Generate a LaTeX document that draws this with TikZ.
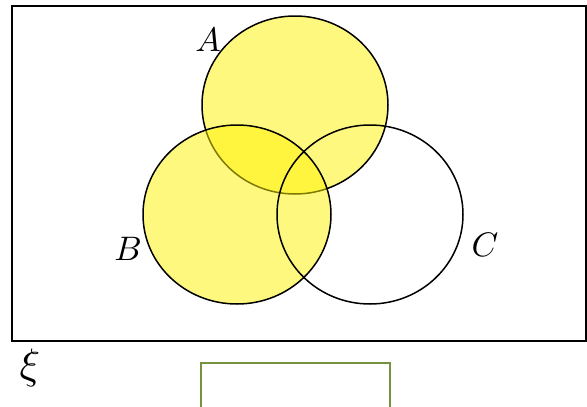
\documentclass[tikz,border=0pt]{standalone}
\usetikzlibrary{shapes.geometric}
\begin{document}
\begin{tikzpicture}[x=1pt,y=-1pt,
  setcirc/.style={draw=black,line width=1.5pt},
  yel/.style={setcirc,fill=yellow,fill opacity=0.5},
  lab/.style={scale=3.4,inner sep=0pt}]
\definecolor{olivebox}{RGB}{118,146,60}
\useasboundingbox (0,0) rectangle (587,407);
\draw[line width=1.4pt] (12,6) rectangle (586,341);
\node[yel,ellipse,minimum width=186pt,minimum height=178pt,inner sep=0pt] (A) at (295,105) {};
\node[yel,ellipse,minimum width=188pt,minimum height=179pt,inner sep=0pt] (B) at (237,214.5) {};
\node[setcirc,ellipse,minimum width=186pt,minimum height=179pt,inner sep=0pt] (C) at (370,214.5) {};
\node[lab] (la) at (208,40) {$A$};
\node[lab] (lb) at (128,249) {$B$};
\node[lab] (lc) at (485,245) {$C$};
\node[lab,scale=1.25] (xi) at (30,368) {$\xi$};
\draw[olivebox,line width=1.5pt] (201,420) -- (201,363) -- (390,363) -- (390,420);
\end{tikzpicture}
\end{document}
